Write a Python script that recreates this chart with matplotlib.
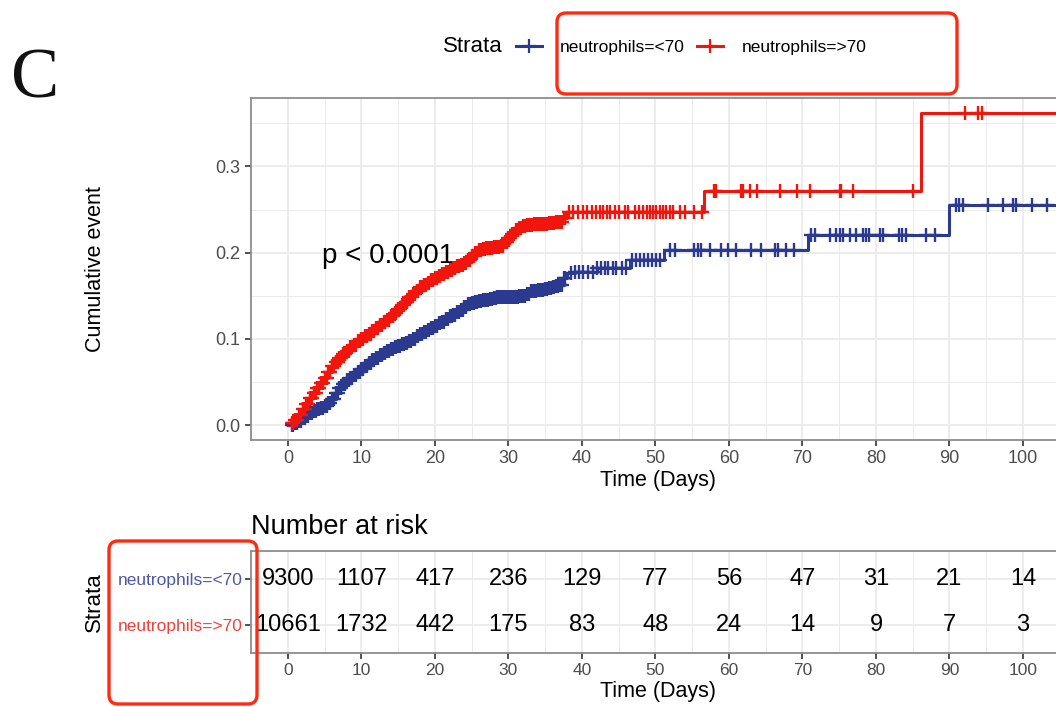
import numpy as np
import matplotlib
matplotlib.use("Agg")
import matplotlib.pyplot as plt
from matplotlib.lines import Line2D
from matplotlib.patches import FancyBboxPatch

plt.rcParams['font.family'] = ['Liberation Sans', 'DejaVu Sans']

# ---------------- data ----------------
groups = ["neutrophils=<70", "neutrophils=>70"]
colors = ["#2B3990", "#F2150C"]
label_colors = ["#4F58A8", "#F0413A"]

low_t = [0, 0.5, 1, 1.5, 2, 2.5, 3, 3.5, 4, 4.5, 5, 5.5, 6, 6.5, 7, 7.5, 8, 8.5, 9, 9.5,
         10, 10.5, 11, 11.5, 12, 12.5, 13, 13.5, 14, 14.5, 15, 15.5, 16, 16.5, 17, 17.5,
         18, 18.5, 19, 19.5, 20, 20.5, 21, 21.5, 22, 22.5, 23, 23.5, 24, 24.5, 25, 25.5,
         26, 26.5, 27, 27.5, 28, 28.5, 29, 29.5, 30, 30.5, 31, 31.5, 32, 32.5, 33, 33.5,
         34, 34.5, 35, 35.5, 36, 36.5, 37, 37.5, 38,
         39, 40, 42, 46.5, 51.2, 70.8, 90.0, 106]
low_y = [0.000, 0.000, 0.002, 0.005, 0.008, 0.011, 0.014, 0.016, 0.018, 0.020,
         0.022, 0.026, 0.030, 0.037, 0.043, 0.048, 0.052, 0.055, 0.058, 0.062,
         0.065, 0.069, 0.072, 0.075, 0.078, 0.081, 0.084, 0.086, 0.088, 0.090,
         0.092, 0.094, 0.095, 0.097, 0.100, 0.103, 0.106, 0.108, 0.110, 0.112,
         0.115, 0.118, 0.120, 0.123, 0.126, 0.128, 0.131, 0.134, 0.137, 0.140,
         0.142, 0.143, 0.144, 0.145, 0.145, 0.146, 0.147, 0.148, 0.148, 0.148,
         0.148, 0.149, 0.149, 0.150, 0.150, 0.152, 0.155, 0.156, 0.157, 0.157,
         0.158, 0.159, 0.160, 0.161, 0.163, 0.170, 0.176,
         0.177, 0.178, 0.182, 0.192, 0.203, 0.221, 0.2555, 0.2555]

high_t = [0, 0.5, 1, 1.5, 2, 2.5, 3, 3.5, 4, 4.5, 5, 5.5, 6, 6.5, 7, 7.5, 8, 8.5, 9, 9.5,
          10, 10.5, 11, 11.5, 12, 12.5, 13, 13.5, 14, 14.5, 15, 15.5, 16, 16.5, 17, 17.5,
          18, 18.5, 19, 19.5, 20, 20.5, 21, 21.5, 22, 22.5, 23, 23.5, 24, 24.5, 25, 25.5,
          26, 26.5, 27, 27.5, 28, 28.5, 29, 29.5, 30, 30.5, 31, 31.5, 32, 32.5, 33, 33.5,
          34, 34.5, 35, 35.5, 36, 36.5, 37, 37.5, 38,
          56.6, 86.1, 106]
high_y = [0.000, 0.002, 0.006, 0.012, 0.018, 0.024, 0.031, 0.037, 0.043, 0.049,
          0.055, 0.062, 0.068, 0.073, 0.078, 0.082, 0.086, 0.090, 0.093, 0.097,
          0.100, 0.103, 0.106, 0.109, 0.112, 0.116, 0.119, 0.122, 0.126, 0.130,
          0.135, 0.139, 0.143, 0.148, 0.152, 0.156, 0.160, 0.163, 0.165, 0.168,
          0.170, 0.173, 0.175, 0.178, 0.180, 0.182, 0.184, 0.186, 0.188, 0.192,
          0.196, 0.200, 0.203, 0.204, 0.205, 0.205, 0.206, 0.207, 0.208, 0.212,
          0.217, 0.222, 0.226, 0.229, 0.231, 0.232, 0.232, 0.233, 0.233, 0.233,
          0.233, 0.234, 0.234, 0.235, 0.236, 0.240, 0.247,
          0.271, 0.362, 0.362]

# early phase: censored observations are dense (between listed event times)
early_cens = [0.75, 1.25, 1.75, 2.25, 2.75, 3.25, 3.75, 4.25, 4.75, 5.25, 5.75, 6.25,
              6.75, 7.25, 7.75, 8.25, 8.75, 9.25, 9.75, 10.25, 10.75, 11.25, 11.75,
              12.25, 12.75, 13.25, 13.75, 14.25, 14.75, 15.25, 15.75, 16.25, 16.75,
              17.25, 17.75, 18.25, 18.75, 19.25, 19.75, 20.25, 20.75, 21.25, 21.75,
              22.25, 22.75, 23.25, 23.75, 24.25, 24.75, 25.25, 25.75, 26.25, 26.75,
              27.25, 27.75, 28.25, 28.75, 29.25, 29.75, 30.25, 30.75, 31.25, 31.75,
              32.25, 32.75, 33.25, 33.75, 34.25, 34.75, 35.25, 35.75, 36.25, 36.75,
              37.25, 37.75]

# censored observations after the dense early phase
low_cens_late = [38.5, 39.0, 39.6, 40.2, 40.8, 41.5, 42.0, 42.6, 43.1, 43.6, 44.2, 44.6,
                 45.4, 46.0, 46.8, 47.3, 47.9, 48.4, 49.0, 49.5, 50.1, 50.6, 52.0, 52.7,
                 55.3, 55.8, 56.2, 57.4, 58.9, 59.8, 61.0, 63.0, 64.4, 66.2, 66.7, 67.8,
                 68.9, 71.2, 71.7, 73.7, 74.6, 75.1, 75.5, 76.4, 77.3, 78.2, 78.7, 79.1,
                 80.5, 80.9, 83.2, 83.6, 84.1, 86.8, 88.0, 90.9, 91.3, 91.8, 95.2, 97.3,
                 98.6, 99.1, 101.2, 103.3]
high_cens_late = [38.2, 38.8, 39.5, 40.1, 40.7, 41.3, 41.9, 42.5, 42.9, 43.4, 43.8, 44.5,
                  45.0, 45.8, 46.3, 47.2, 47.7, 48.3, 48.8, 49.2, 49.7, 50.1, 50.6, 51.0,
                  51.5, 52.0, 52.4, 53.3, 54.0, 55.3, 56.3,
                  57.9, 58.3, 61.7, 61.95, 62.85, 63.8, 66.9, 69.2, 71.0, 75.1, 75.3,
                  76.9, 85.1, 92.1, 93.9, 94.4]

risk_times = [0, 10, 20, 30, 40, 50, 60, 70, 80, 90, 100]
risk_low = [9300, 1107, 417, 236, 129, 77, 56, 47, 31, 21, 14]
risk_high = [10661, 1732, 442, 175, 83, 48, 24, 14, 9, 7, 3]

x_ticks = [0, 10, 20, 30, 40, 50, 60, 70, 80, 90, 100]
x_minor = [5, 15, 25, 35, 45, 55, 65, 75, 85, 95, 105]
y_ticks = [0.0, 0.1, 0.2, 0.3]
y_tick_labels = ["0.0", "0.1", "0.2", "0.3"]
y_minor = [0.05, 0.15, 0.25, 0.35]

series_t = [low_t, high_t]
series_y = [low_y, high_y]
series_c = [[t for t in low_t if 0.5 <= t <= 37.5] + early_cens + low_cens_late,
            [t for t in high_t if 0.5 <= t <= 37.5] + early_cens + high_cens_late]
risk_vals = [risk_low, risk_high]

# ---------------- figure ----------------
W, H = 1056, 707
fig = plt.figure(figsize=(W / 100, H / 100), dpi=100)

def fx(px):
    return px / W

def fy(py):
    return 1 - py / H

xlim = (-5.03, 105.6)
ax_wpx = (xlim[1] - xlim[0]) * 7.35
ax_w = ax_wpx / W

grid_c = "#EBEBEB"
border_c = "#8C8C8C"
tick_c = "#4D4D4D"

ax = fig.add_axes([fx(251), fy(440), ax_w, fy(98) - fy(440)])
ax.set_xlim(*xlim)
ax.set_ylim(-0.0174, 0.3794)
ax.set_xticks(x_ticks)
ax.set_xticks(x_minor, minor=True)
ax.set_yticks(y_ticks)
ax.set_yticks(y_minor, minor=True)
ax.set_yticklabels(y_tick_labels)
ax.grid(which='major', color=grid_c, lw=1.3)
ax.grid(which='minor', color=grid_c, lw=0.7)
ax.set_axisbelow(True)
ax.tick_params(which='minor', length=0)
ax.tick_params(which='major', length=4, width=1.2, color="#333333",
               labelcolor=tick_c, labelsize=13)
for s in ax.spines.values():
    s.set_color(border_c)
    s.set_linewidth(1.3)

for t, y, c, col in zip(series_t, series_y, series_c, colors):
    ax.step(t, y, where='post', color=col, lw=2.2, zorder=3)
    ta = np.asarray(t)
    ya = np.asarray(y)
    ca = np.sort(np.asarray(c))
    idx = np.searchsorted(ta, ca, side='right') - 1
    ax.plot(ca, ya[idx], ls='none', marker='+', ms=10, mew=1.7, color=col, zorder=4)

ax.text(4.6, 0.196, "p < 0.0001", fontsize=20, ha='left', va='center', color="black")
ax.set_xlabel("Time (Days)", fontsize=15.5, labelpad=2)
ax.set_ylabel("Cumulative event", fontsize=15.5)
ax.yaxis.set_label_coords((106 - 251) / ax_wpx, 0.5)

# ---------------- risk table ----------------
rt = fig.add_axes([fx(251), fy(652.7), ax_w, fy(550.7) - fy(652.7)])
rt.set_xlim(*xlim)
rt.set_ylim(0.4, 2.6)
rt.set_xticks(x_ticks)
rt.set_xticks(x_minor, minor=True)
rt.set_yticks([2, 1])
rt.set_yticklabels(groups)
for lab, col in zip(rt.get_yticklabels(), label_colors):
    lab.set_color(col)
rt.grid(which='major', color=grid_c, lw=1.3)
rt.grid(which='minor', axis='x', color=grid_c, lw=0.7)
rt.set_axisbelow(True)
rt.tick_params(which='minor', length=0)
rt.tick_params(axis='x', which='major', length=4, width=1.2, color="#333333",
               labelcolor=tick_c, labelsize=12.5)
rt.tick_params(axis='y', which='major', length=4, width=1.2, color="#333333",
               labelsize=12.5, pad=2)
for s in rt.spines.values():
    s.set_color(border_c)
    s.set_linewidth(1.3)
for row, vals in zip([2, 1], risk_vals):
    for t, v in zip(risk_times, vals):
        rt.text(t, row, str(v), fontsize=17, ha='center', va='center', color="black")
rt.set_xlabel("Time (Days)", fontsize=15.5, labelpad=2)
rt.set_ylabel("Strata", fontsize=16)
rt.yaxis.set_label_coords((105 - 251) / ax_wpx, 0.5)
rt.set_title("Number at risk", fontsize=19.5, loc='left', pad=12, x=0.0)

# ---------------- legend ----------------
handles = [Line2D([], [], color=col, lw=2.2, marker='+', ms=10, mew=1.6) for col in colors]
fig.legend(handles, groups, loc='center left', bbox_to_anchor=(fx(516), fy(47)),
           ncol=2, frameon=False, fontsize=12.5, handlelength=1.5, handletextpad=1.05,
           columnspacing=0.7, borderpad=0, borderaxespad=0)
fig.text(fx(443), fy(47), "Strata", fontsize=16, ha='left', va='center')

# ---------------- overlay (panel letter + highlight boxes) ----------------
ov = fig.add_axes([0, 0, 1, 1], zorder=10)
ov.set_xlim(0, W)
ov.set_ylim(H, 0)
ov.axis('off')
ov.patch.set_alpha(0)
ov.text(11, 97, "C", fontsize=52, family=['Liberation Serif', 'DejaVu Serif'],
        ha='left', va='baseline', color="#111111")
for (x0, y0, x1, y1) in [(557, 13, 957, 94), (109, 541, 257, 704)]:
    ov.add_patch(FancyBboxPatch((x0, y0), x1 - x0, y1 - y0,
                                boxstyle="round,pad=0,rounding_size=9",
                                fill=False, ec="#FF2A12", lw=2.4))

fig.savefig("out.png", dpi=100)
